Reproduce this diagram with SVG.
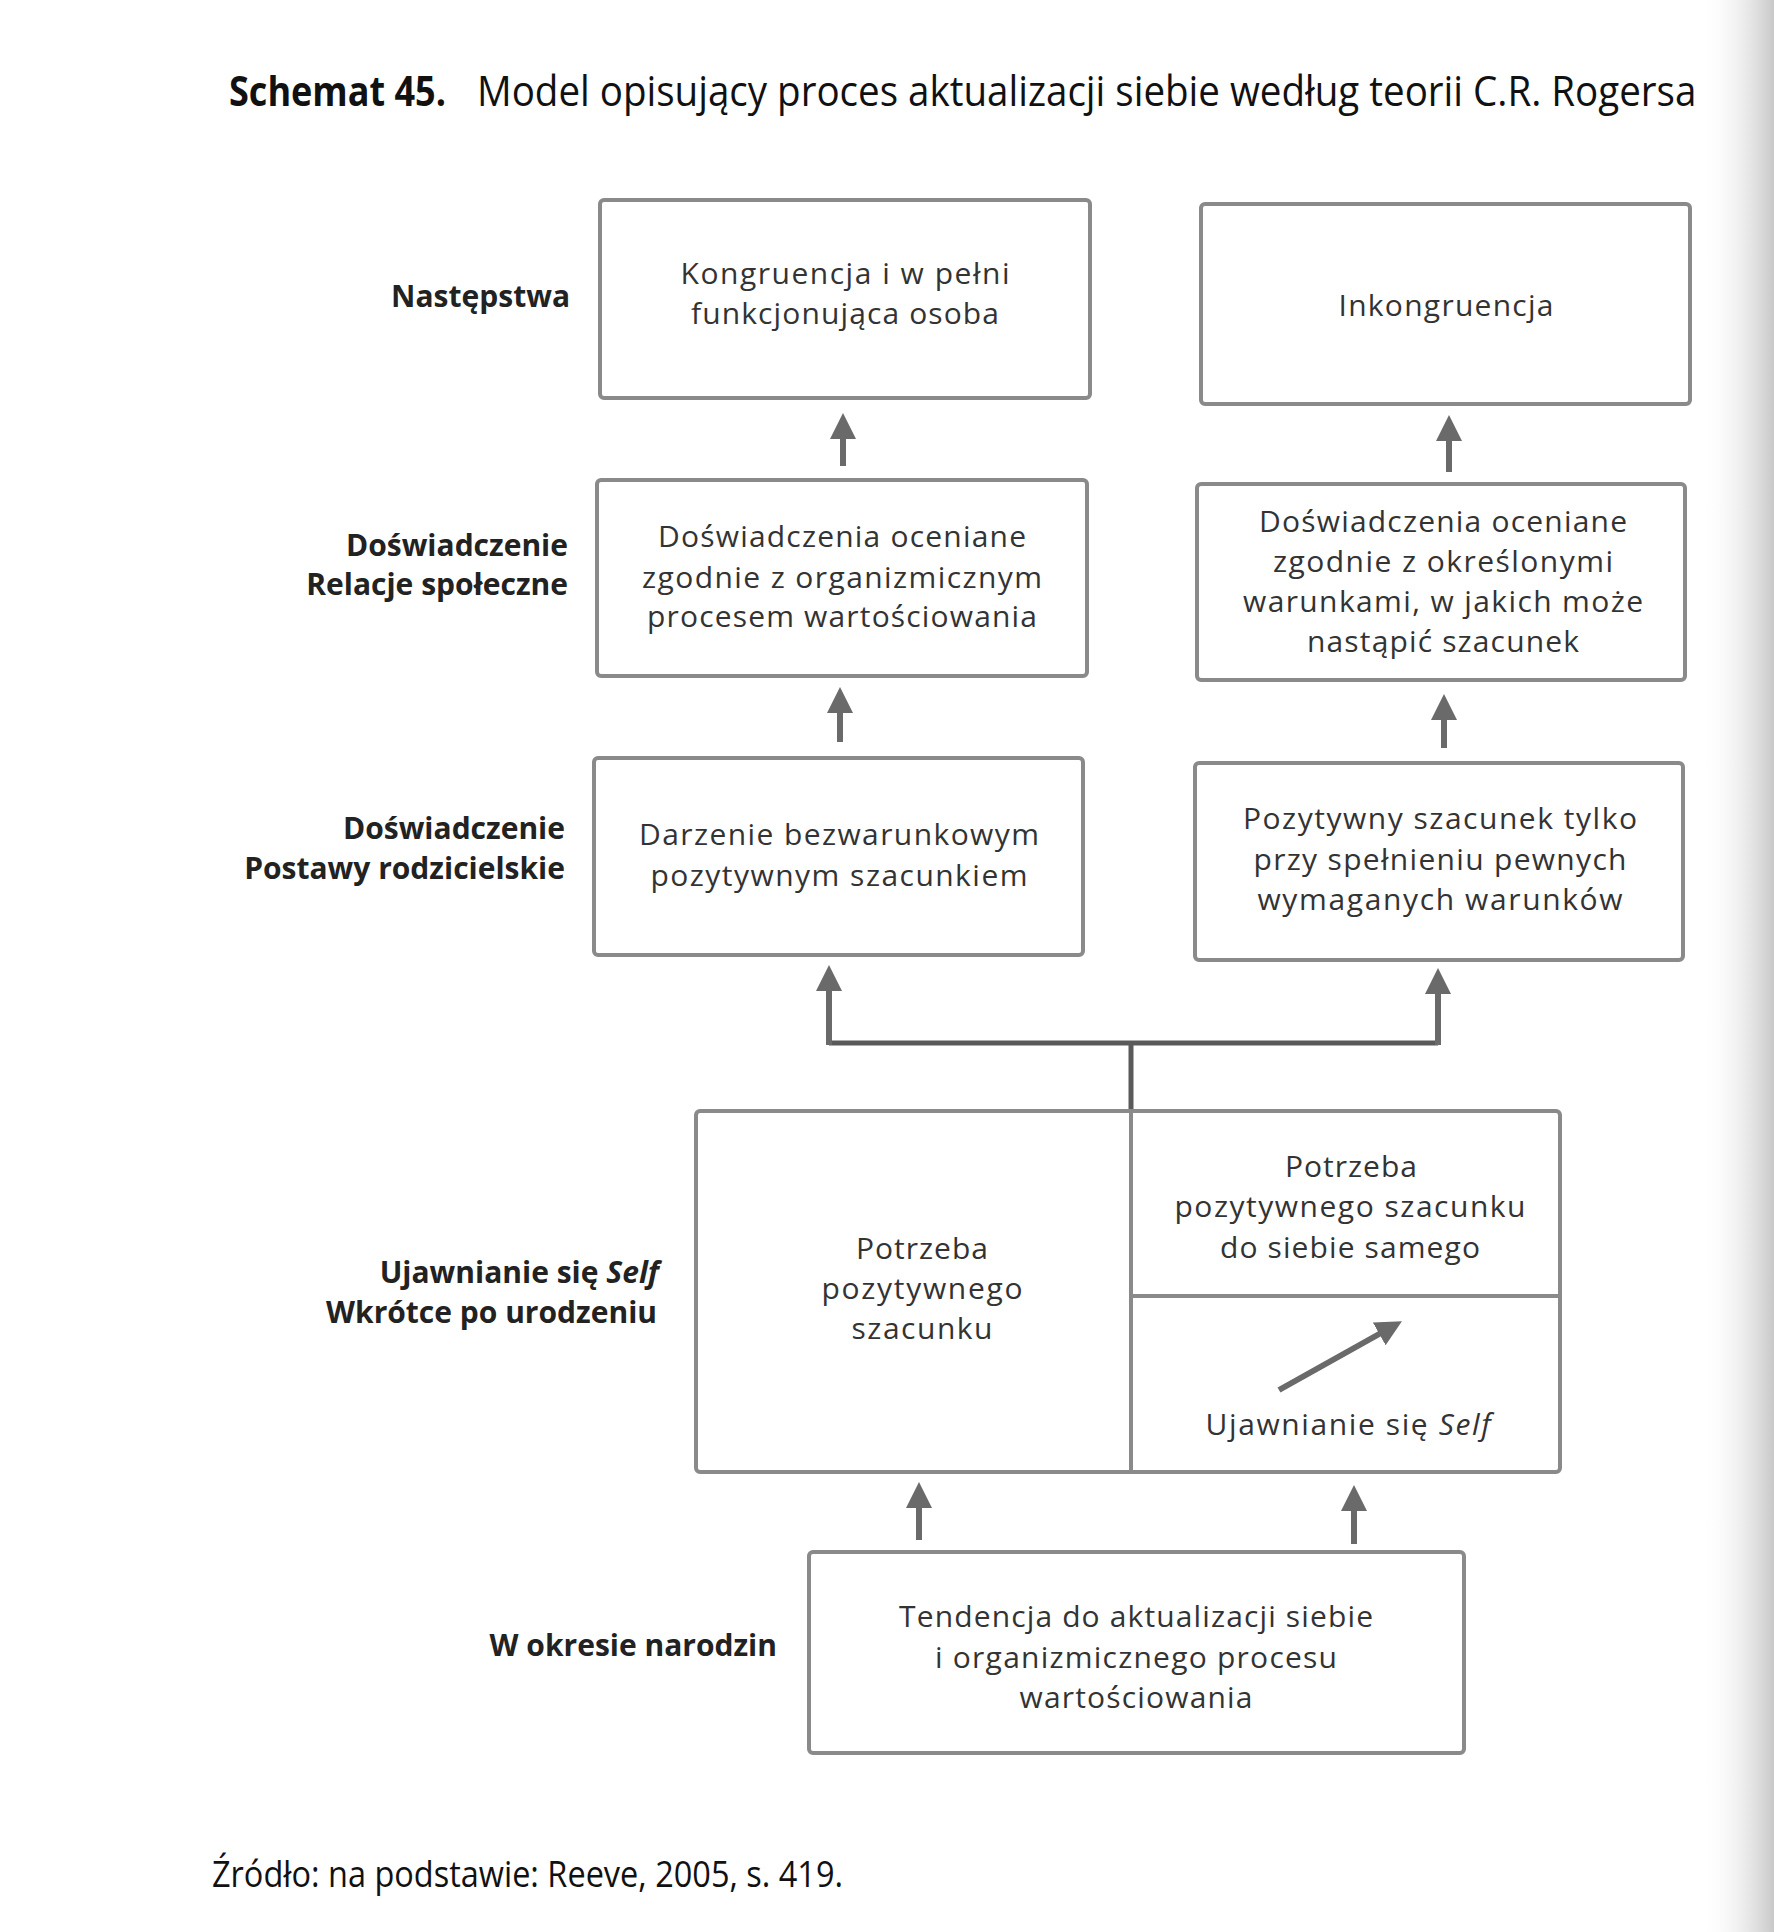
<svg xmlns="http://www.w3.org/2000/svg" width="1774" height="1932" viewBox="0 0 1774 1932">
<defs>
<linearGradient id="edge" x1="0" y1="0" x2="1" y2="0">
<stop offset="0" stop-color="#ffffff" stop-opacity="0"/>
<stop offset="1" stop-color="#c8c8c8"/>
</linearGradient>
<marker id="ah" markerUnits="userSpaceOnUse" markerWidth="28" markerHeight="28" refX="2" refY="13" orient="auto">
<path d="M0,0 L26,13 L0,26 z" fill="#6a6a6a"/>
</marker>
<style>
.box{fill:#fff;stroke:#8a8a8a;stroke-width:4}
.div{fill:none;stroke:#8a8a8a;stroke-width:4}
.t{font-family:"Open Sans","Noto Sans","Liberation Sans",sans-serif;font-size:30px;fill:#333;text-anchor:middle}
.lab{font-family:"Open Sans","Noto Sans","Liberation Sans",sans-serif;font-size:30px;font-weight:700;fill:#222;text-anchor:end}
.arr{fill:none;stroke:#6a6a6a;stroke-width:6;marker-end:url(#ah)}
.con{fill:none;stroke:#5a5a5a;stroke-width:5}
</style>
</defs>
<rect x="0" y="0" width="1774" height="1932" fill="#ffffff"/>
<rect x="1700" y="0" width="74" height="1932" fill="url(#edge)"/>

<g id="title">
<text x="229" y="106" font-family="'Open Sans','Noto Sans',sans-serif" font-size="42" font-weight="700" fill="#111" textLength="217" lengthAdjust="spacingAndGlyphs">Schemat 45.</text>
<text transform="translate(477,106) scale(0.82,1)" x="0" y="0" font-family="'Open Sans','Noto Sans',sans-serif" font-size="42" fill="#111" textLength="1487" lengthAdjust="spacingAndGlyphs">Model opisujący proces aktualizacji siebie według teorii C.R. Rogersa</text>
</g>

<g id="labels">
<text class="lab" x="570" y="307">Następstwa</text>
<text class="lab" x="568" y="556">Doświadczenie</text>
<text class="lab" x="568" y="595">Relacje społeczne</text>
<text class="lab" x="565" y="839">Doświadczenie</text>
<text class="lab" x="565" y="879">Postawy rodzicielskie</text>
<text class="lab" x="659" y="1283">Ujawnianie się <tspan font-style="italic">Self</tspan></text>
<text class="lab" x="657" y="1323">Wkrótce po urodzeniu</text>
<text class="lab" x="777" y="1656">W okresie narodzin</text>
</g>

<g id="connectors">
<path class="arr" d="M843,466 V437"/>
<path class="arr" d="M1449,472 V439"/>
<path class="arr" d="M840,742 V711"/>
<path class="arr" d="M1444,748 V718"/>
<path class="con" d="M1131,1111 V1043"/>
<path class="con" d="M829,1043 H1438"/>
<path class="arr" d="M829,1045 V989"/>
<path class="arr" d="M1438,1045 V992"/>
<path class="arr" d="M919,1540 V1506"/>
<path class="arr" d="M1354,1544 V1509"/>
</g>

<g id="nodeA">
<rect class="box" x="600" y="200" width="490" height="198" rx="4"/>
<text class="t" x="845" y="284" textLength="329" lengthAdjust="spacing">Kongruencja i w pełni</text>
<text class="t" x="845" y="324" textLength="308" lengthAdjust="spacing">funkcjonująca osoba</text>
</g>
<g id="nodeB">
<rect class="box" x="1201" y="204" width="489" height="200" rx="4"/>
<text class="t" x="1446" y="316" textLength="215" lengthAdjust="spacing">Inkongruencja</text>
</g>
<g id="nodeC">
<rect class="box" x="597" y="480" width="490" height="196" rx="4"/>
<text class="t" x="842" y="547" textLength="368" lengthAdjust="spacing">Doświadczenia oceniane</text>
<text class="t" x="842" y="588" textLength="400" lengthAdjust="spacing">zgodnie z organizmicznym</text>
<text class="t" x="842" y="627" textLength="390" lengthAdjust="spacing">procesem wartościowania</text>
</g>
<g id="nodeD">
<rect class="box" x="1197" y="484" width="488" height="196" rx="4"/>
<text class="t" x="1443" y="532" textLength="368" lengthAdjust="spacing">Doświadczenia oceniane</text>
<text class="t" x="1443" y="572" textLength="340" lengthAdjust="spacing">zgodnie z określonymi</text>
<text class="t" x="1443" y="612" textLength="400" lengthAdjust="spacing">warunkami, w jakich może</text>
<text class="t" x="1443" y="652" textLength="272" lengthAdjust="spacing">nastąpić szacunek</text>
</g>
<g id="nodeE">
<rect class="box" x="594" y="758" width="489" height="197" rx="4"/>
<text class="t" x="839" y="845" textLength="400" lengthAdjust="spacing">Darzenie bezwarunkowym</text>
<text class="t" x="839" y="886" textLength="377" lengthAdjust="spacing">pozytywnym szacunkiem</text>
</g>
<g id="nodeF">
<rect class="box" x="1195" y="763" width="488" height="197" rx="4"/>
<text class="t" x="1440" y="829" textLength="394" lengthAdjust="spacing">Pozytywny szacunek tylko</text>
<text class="t" x="1440" y="870" textLength="373" lengthAdjust="spacing">przy spełnieniu pewnych</text>
<text class="t" x="1440" y="910" textLength="365" lengthAdjust="spacing">wymaganych warunków</text>
</g>
<g id="nodeG">
<rect class="box" x="696" y="1111" width="864" height="361" rx="4"/>
<path class="div" d="M1131,1111 V1472 M1131,1296 H1558"/>
<text class="t" x="922" y="1259" textLength="132" lengthAdjust="spacing">Potrzeba</text>
<text class="t" x="922" y="1299" textLength="201" lengthAdjust="spacing">pozytywnego</text>
<text class="t" x="922" y="1339" textLength="141" lengthAdjust="spacing">szacunku</text>
<text class="t" x="1351" y="1177" textLength="132" lengthAdjust="spacing">Potrzeba</text>
<text class="t" x="1350" y="1217" textLength="351" lengthAdjust="spacing">pozytywnego szacunku</text>
<text class="t" x="1350" y="1258" textLength="260" lengthAdjust="spacing">do siebie samego</text>
<path class="arr" d="M1279,1390 L1381,1333"/>
<text class="t" x="1348" y="1435" textLength="285" lengthAdjust="spacing">Ujawnianie się <tspan font-style="italic">Self</tspan></text>
</g>
<g id="nodeH">
<rect class="box" x="809" y="1552" width="655" height="201" rx="4"/>
<text class="t" x="1136" y="1627" textLength="474" lengthAdjust="spacing">Tendencja do aktualizacji siebie</text>
<text class="t" x="1136" y="1668" textLength="402" lengthAdjust="spacing">i organizmicznego procesu</text>
<text class="t" x="1136" y="1708" textLength="233" lengthAdjust="spacing">wartościowania</text>
</g>

<g id="source">
<text x="212" y="1887" font-family="'Open Sans','Noto Sans',sans-serif" font-size="36" fill="#111" textLength="631" lengthAdjust="spacingAndGlyphs">Źródło: na podstawie: Reeve, 2005, s. 419.</text>
</g>
</svg>
